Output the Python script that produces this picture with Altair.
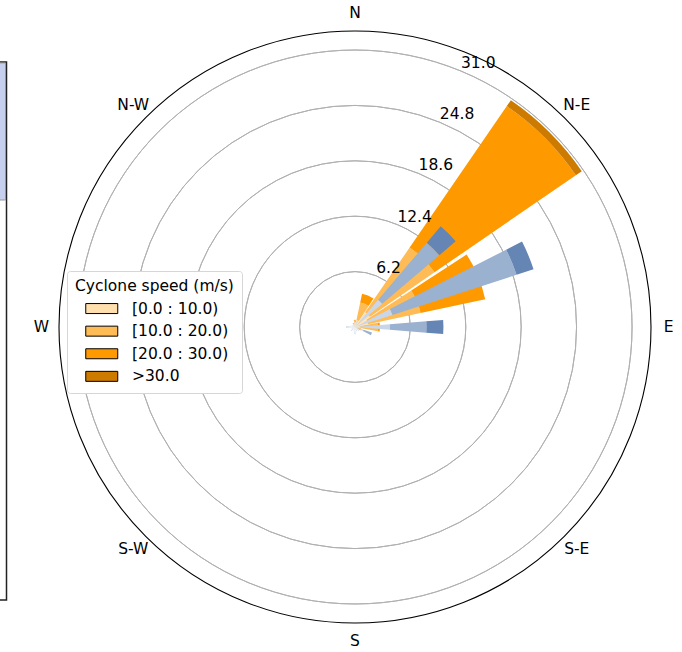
import math
import altair as alt
import pandas as pd

# ---------------- data ----------------
DIRS = [0, 22.5, 45, 67.5, 90, 112.5, 135, 157.5,
        180, 202.5, 225, 247.5, 270, 292.5, 315, 337.5]

DIR_NAMES = ["N", "N-E", "E", "S-E", "S", "S-W", "W", "N-W"]
DIR_NAME_ANGLES = [0, 45, 90, 135, 180, 225, 270, 315]

RADIAL_TICKS = [6.2, 12.4, 18.6, 24.8, 31.0]
RADIAL_LABELS = ["6.2", "12.4", "18.6", "24.8", "31.0"]

# cyclone speed windrose (orange), frequency per direction and speed bin
SPEED_BINS = ["[0.0 : 10.0)", "[10.0 : 20.0)", "[20.0 : 30.0)", ">30.0"]
cyc_0_10 = [0.5, 0.8, 2.0, 1.5, 0.6, 0.3, 0.2, 0.0, 0.0, 0.0, 0.0, 0.0, 0.0, 0.0, 0.2, 0.3]
cyc_10_20 = [0.3, 2.0, 8.8, 6.0, 2.0, 0.4, 0.0, 0.0, 0.0, 0.0, 0.0, 0.0, 0.0, 0.0, 0.0, 0.2]
cyc_20_30 = [0.0, 1.0, 19.2, 7.4, 0.2, 0.0, 0.0, 0.0, 0.0, 0.0, 0.0, 0.0, 0.0, 0.0, 0.0, 0.0]
cyc_30_up = [0.0, 0.0, 0.8, 0.0, 0.0, 0.0, 0.0, 0.0, 0.0, 0.0, 0.0, 0.0, 0.0, 0.0, 0.0, 0.0]

# second windrose (blue), its legend is cut off at the left edge
BLUE_BINS = ["low", "mid", "high"]
blue_low = [0.5, 0.8, 4.0, 4.4, 3.9, 1.0, 0.6, 0.5, 0.8, 0.4, 0.6, 0.4, 1.0, 0.4, 0.3, 0.3]
blue_mid = [0.0, 0.0, 8.4, 14.6, 4.1, 1.0, 0.0, 0.0, 0.0, 0.0, 0.0, 0.0, 0.0, 0.0, 0.0, 0.0]
blue_high = [0.0, 0.0, 2.4, 2.0, 1.9, 0.0, 0.0, 0.0, 0.0, 0.0, 0.0, 0.0, 0.0, 0.0, 0.0, 0.0]

# ---------------- styling ----------------
ORANGE_COLORS = ["#ffdfae", "#ffbb55", "#ff9900", "#cc7a00"]
BLUE_COLORS = ["#c9d6e9", "#9ab1d0", "#6585b4"]
RMAX = 33.13
LABEL_R = 35.1
ORANGE_HALF = 10.5
BLUE_HALF = 4.6
FONT = "DejaVu Sans"
FS = 15.5


def stacked(series, names, half):
    rows = []
    for i, d in enumerate(DIRS):
        base = 0.0
        for k, (name, s) in enumerate(zip(names, series)):
            v = s[i]
            if v > 0:
                rows.append(dict(t1=d - half, t2=d + half, r1=base, r2=base + v,
                                 bin=name, k=k))
            base += v
    return pd.DataFrame(rows)


orange_df = stacked([cyc_0_10, cyc_10_20, cyc_20_30, cyc_30_up], SPEED_BINS, ORANGE_HALF)
blue_df = stacked([blue_low, blue_mid, blue_high], BLUE_BINS, BLUE_HALF)
grid_df = pd.DataFrame({"r": RADIAL_TICKS, "label": RADIAL_LABELS, "a": [22.5] * 5})
frame_df = pd.DataFrame({"r": [RMAX]})
dir_df = pd.DataFrame({"name": DIR_NAMES, "a": DIR_NAME_ANGLES, "r": [LABEL_R] * 8})

theta_scale = alt.Scale(domain=[0, 360], range=[0, 2 * math.pi])
r_scale = alt.Scale(type="linear", domain=[0, RMAX], range=[0, 296], zero=True, nice=False)

grid = alt.Chart(grid_df).mark_arc(filled=False, stroke="#b0b0b0", strokeWidth=1).encode(
    theta=alt.value(0), theta2=alt.value(2 * math.pi),
    radius=alt.Radius("r:Q", scale=r_scale), radius2="r:Q",
)

path = "M-3.2,-1H3.2V1H-3.2Z"
orange = alt.Chart(orange_df).mark_arc().encode(
    theta=alt.Theta("t1:Q", scale=theta_scale, stack=None),
    theta2="t2:Q",
    radius=alt.Radius("r1:Q", scale=r_scale),
    radius2="r2:Q",
    color=alt.Color(
        "bin:N",
        scale=alt.Scale(domain=SPEED_BINS, range=ORANGE_COLORS),
        legend=alt.Legend(
            title="Cyclone speed (m/s)", orient="none", legendX=39, legendY=269,
            symbolType=path, symbolSize=100, symbolStrokeColor="black",
            symbolStrokeWidth=1, symbolOpacity=1, symbolOffset=19, labelOffset=22.5,
            fillColor="white", strokeColor="#d6d6d6", cornerRadius=3, padding=8,
            titleFont=FONT, titleFontSize=FS, titleFontWeight="normal", titleColor="black",
            labelFont=FONT, labelFontSize=FS, labelColor="black",
            rowPadding=5.6, titlePadding=6.3,
        ),
    ),
)

blue = alt.Chart(blue_df).mark_arc().encode(
    theta=alt.Theta("t1:Q", scale=theta_scale, stack=None),
    theta2="t2:Q",
    radius=alt.Radius("r1:Q", scale=r_scale),
    radius2="r2:Q",
    fill=alt.Fill("bin:N", scale=alt.Scale(domain=BLUE_BINS, range=BLUE_COLORS), legend=None),
)

frame = alt.Chart(frame_df).mark_arc(filled=False, stroke="black", strokeWidth=1.1).encode(
    theta=alt.value(0), theta2=alt.value(2 * math.pi),
    radius=alt.Radius("r:Q", scale=r_scale), radius2="r:Q",
)

rlabels = alt.Chart(grid_df).mark_text(
    align="left", baseline="bottom", font=FONT, fontSize=FS, color="black"
).encode(
    theta=alt.Theta("a:Q", scale=theta_scale, stack=None),
    radius=alt.Radius("r:Q", scale=r_scale),
    text="label:N",
)

dlabels = alt.Chart(dir_df).mark_text(
    align="center", baseline="middle", font=FONT, fontSize=FS, color="black"
).encode(
    theta=alt.Theta("a:Q", scale=theta_scale, stack=None),
    radius=alt.Radius("r:Q", scale=r_scale),
    text="name:N",
)

# cut-off neighbouring legend box at the left edge
box_df = pd.DataFrame({"k": [0]})
box = alt.Chart(box_df).mark_rect(fill="white", stroke="#222222", strokeWidth=1.5).encode(
    x=alt.value(-45), x2=alt.value(-21.5), y=alt.value(60), y2=alt.value(598)
)
box_top = alt.Chart(box_df).mark_rect(fill="#c6cfee", stroke="#999999", strokeWidth=1).encode(
    x=alt.value(-45), x2=alt.value(-22.5), y=alt.value(61), y2=alt.value(198)
)

chart = alt.layer(grid, orange, blue, frame, rlabels, dlabels, box, box_top).resolve_scale(
    color="independent", fill="independent"
).properties(
    width=654, height=650, autosize="none", background="white",
    padding={"left": 28, "top": 2, "right": 0, "bottom": 0},
).configure_view(strokeWidth=0, stroke="transparent")

chart.save("out.html", embed_options={"renderer": "svg", "actions": False})
